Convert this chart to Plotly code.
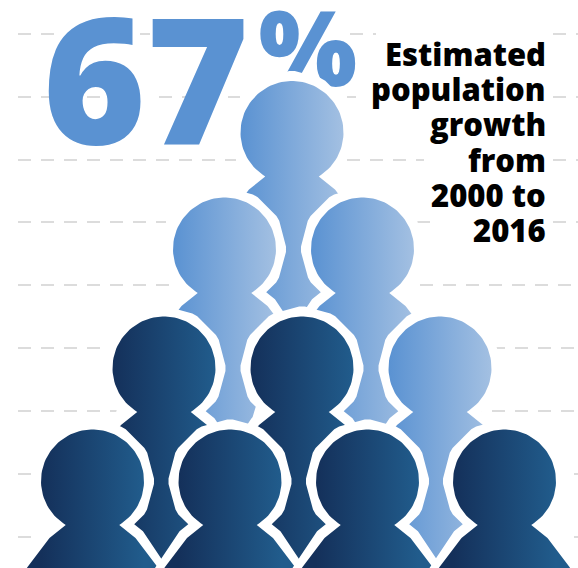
import numpy as np
import plotly.graph_objects as go

# Pictogram data: 6 people today plus 4 people of growth (67 %)
headline_number = "67"
headline_unit = "%"
label_lines = ["Estimated", "population", "growth", "from", "2000 to", "2016"]

person_group = ["growth", "growth", "growth", "base", "base", "growth", "base", "base", "base", "base"]
person_x = [292, 224.5, 362.5, 164, 302, 440, 92.5, 230, 367.5, 504.5]
person_y = [132.5, 249, 249, 368, 368, 368, 481, 481, 481, 481]

# Dashed rule pieces (rule height, piece start, piece end); the people cover the rest
grid_y = [34, 34, 34, 34, 97, 97, 97, 97, 160, 160, 160, 222, 222, 222,
          285, 285, 348, 348, 411, 411, 474, 474, 537, 537]
grid_from = [18, 140, 350, 553, 18, 159, 347, 553, 18, 347, 553, 18, 417, 553,
             18, 420, 18, 400, 18, 400, 18, 574, 18, 574]
grid_to = [55, 150, 376, 578, 100, 240, 356, 578, 236, 424, 578, 166, 439, 578,
           200, 578, 200, 578, 200, 578, 60, 578, 60, 578]

HEAD_R = 51.5
GRAD = {"growth": ("#5a92d2", "#a3c0e2"), "base": ("#14305a", "#215c8c")}
INK = "#5a92d2"
FONT = "Open Sans"

# Silhouette profile: half-width / drop below head centre for the body
body_hw = [27, 43, 65, 85, 100, 104]
body_dy = [44, 57, 86, 120, 170, 215]


def silhouette(cx, cy):
    start = np.arcsin(body_dy[0] / HEAD_R)
    ang = np.linspace(np.pi + start, -start, 90)
    hx = cx + HEAD_R * np.cos(ang)
    hy = cy - HEAD_R * np.sin(ang)
    rx = [cx + w for w in body_hw[1:]]
    ry = [cy + d for d in body_dy[1:]]
    lx = [cx - w for w in reversed(body_hw[1:])]
    ly = [cy + d for d in reversed(body_dy[1:])]
    return list(lx) + list(hx) + list(rx) + [lx[0]], list(ly) + list(hy) + list(ry) + [ly[0]]


fig = go.Figure()

# Dashed rules
gx, gy = [], []
for y, a, b in zip(grid_y, grid_from, grid_to):
    gx += [a, b, None]
    gy += [y, y, None]
fig.add_trace(go.Scatter(x=gx, y=gy, mode="lines", hoverinfo="skip", showlegend=False,
                         line=dict(color="#dcdcdc", width=2, dash="13px,10px")))

# Headline sits behind the people so the top head's white halo trims the % sign
fig.add_trace(go.Scatter(x=[249], y=[100], mode="text", text=[headline_number], textposition="middle left",
                         textfont=dict(family=FONT, size=176, color=INK, weight=800),
                         cliponaxis=False, hoverinfo="skip", showlegend=False))
fig.add_trace(go.Scatter(x=[357], y=[60], mode="text", text=[headline_unit], textposition="middle left",
                         textfont=dict(family=FONT, size=104, color=INK, weight=800),
                         cliponaxis=False, hoverinfo="skip", showlegend=False))

# People, back to front
for cx, cy, g in zip(person_x, person_y, person_group):
    x, y = silhouette(cx, cy)
    fig.add_trace(go.Scatter(x=x, y=y, mode="lines", fill="toself", fillcolor="white",
                             line=dict(color="white", width=20), hoverinfo="skip", showlegend=False))
    c0, c1 = GRAD[g]
    fig.add_trace(go.Scatter(x=x, y=y, mode="lines", fill="toself",
                             fillgradient=dict(type="horizontal", colorscale=[[0, c0], [1, c1]],
                                               start=cx - HEAD_R, stop=cx + HEAD_R),
                             line=dict(width=0), hoverinfo="skip", showlegend=False))

ann = []
for i, line in enumerate(label_lines):
    ann.append(dict(x=547, y=54 + 35.2 * i, text=line, xanchor="right", yanchor="middle",
                    showarrow=False, xref="x", yref="y", align="right", borderpad=0,
                    font=dict(family=FONT, size=31, color="#000000", weight=800)))

fig.update_layout(
    width=578, height=568, margin=dict(l=0, r=0, t=0, b=0),
    paper_bgcolor="white", plot_bgcolor="white", showlegend=False,
    xaxis=dict(range=[0, 578], visible=False, fixedrange=True),
    yaxis=dict(range=[568, 0], visible=False, fixedrange=True),
    annotations=ann,
)
fig.write_html("out.html", config={"displayModeBar": False},
               post_script="document.body.style.margin='0';")
